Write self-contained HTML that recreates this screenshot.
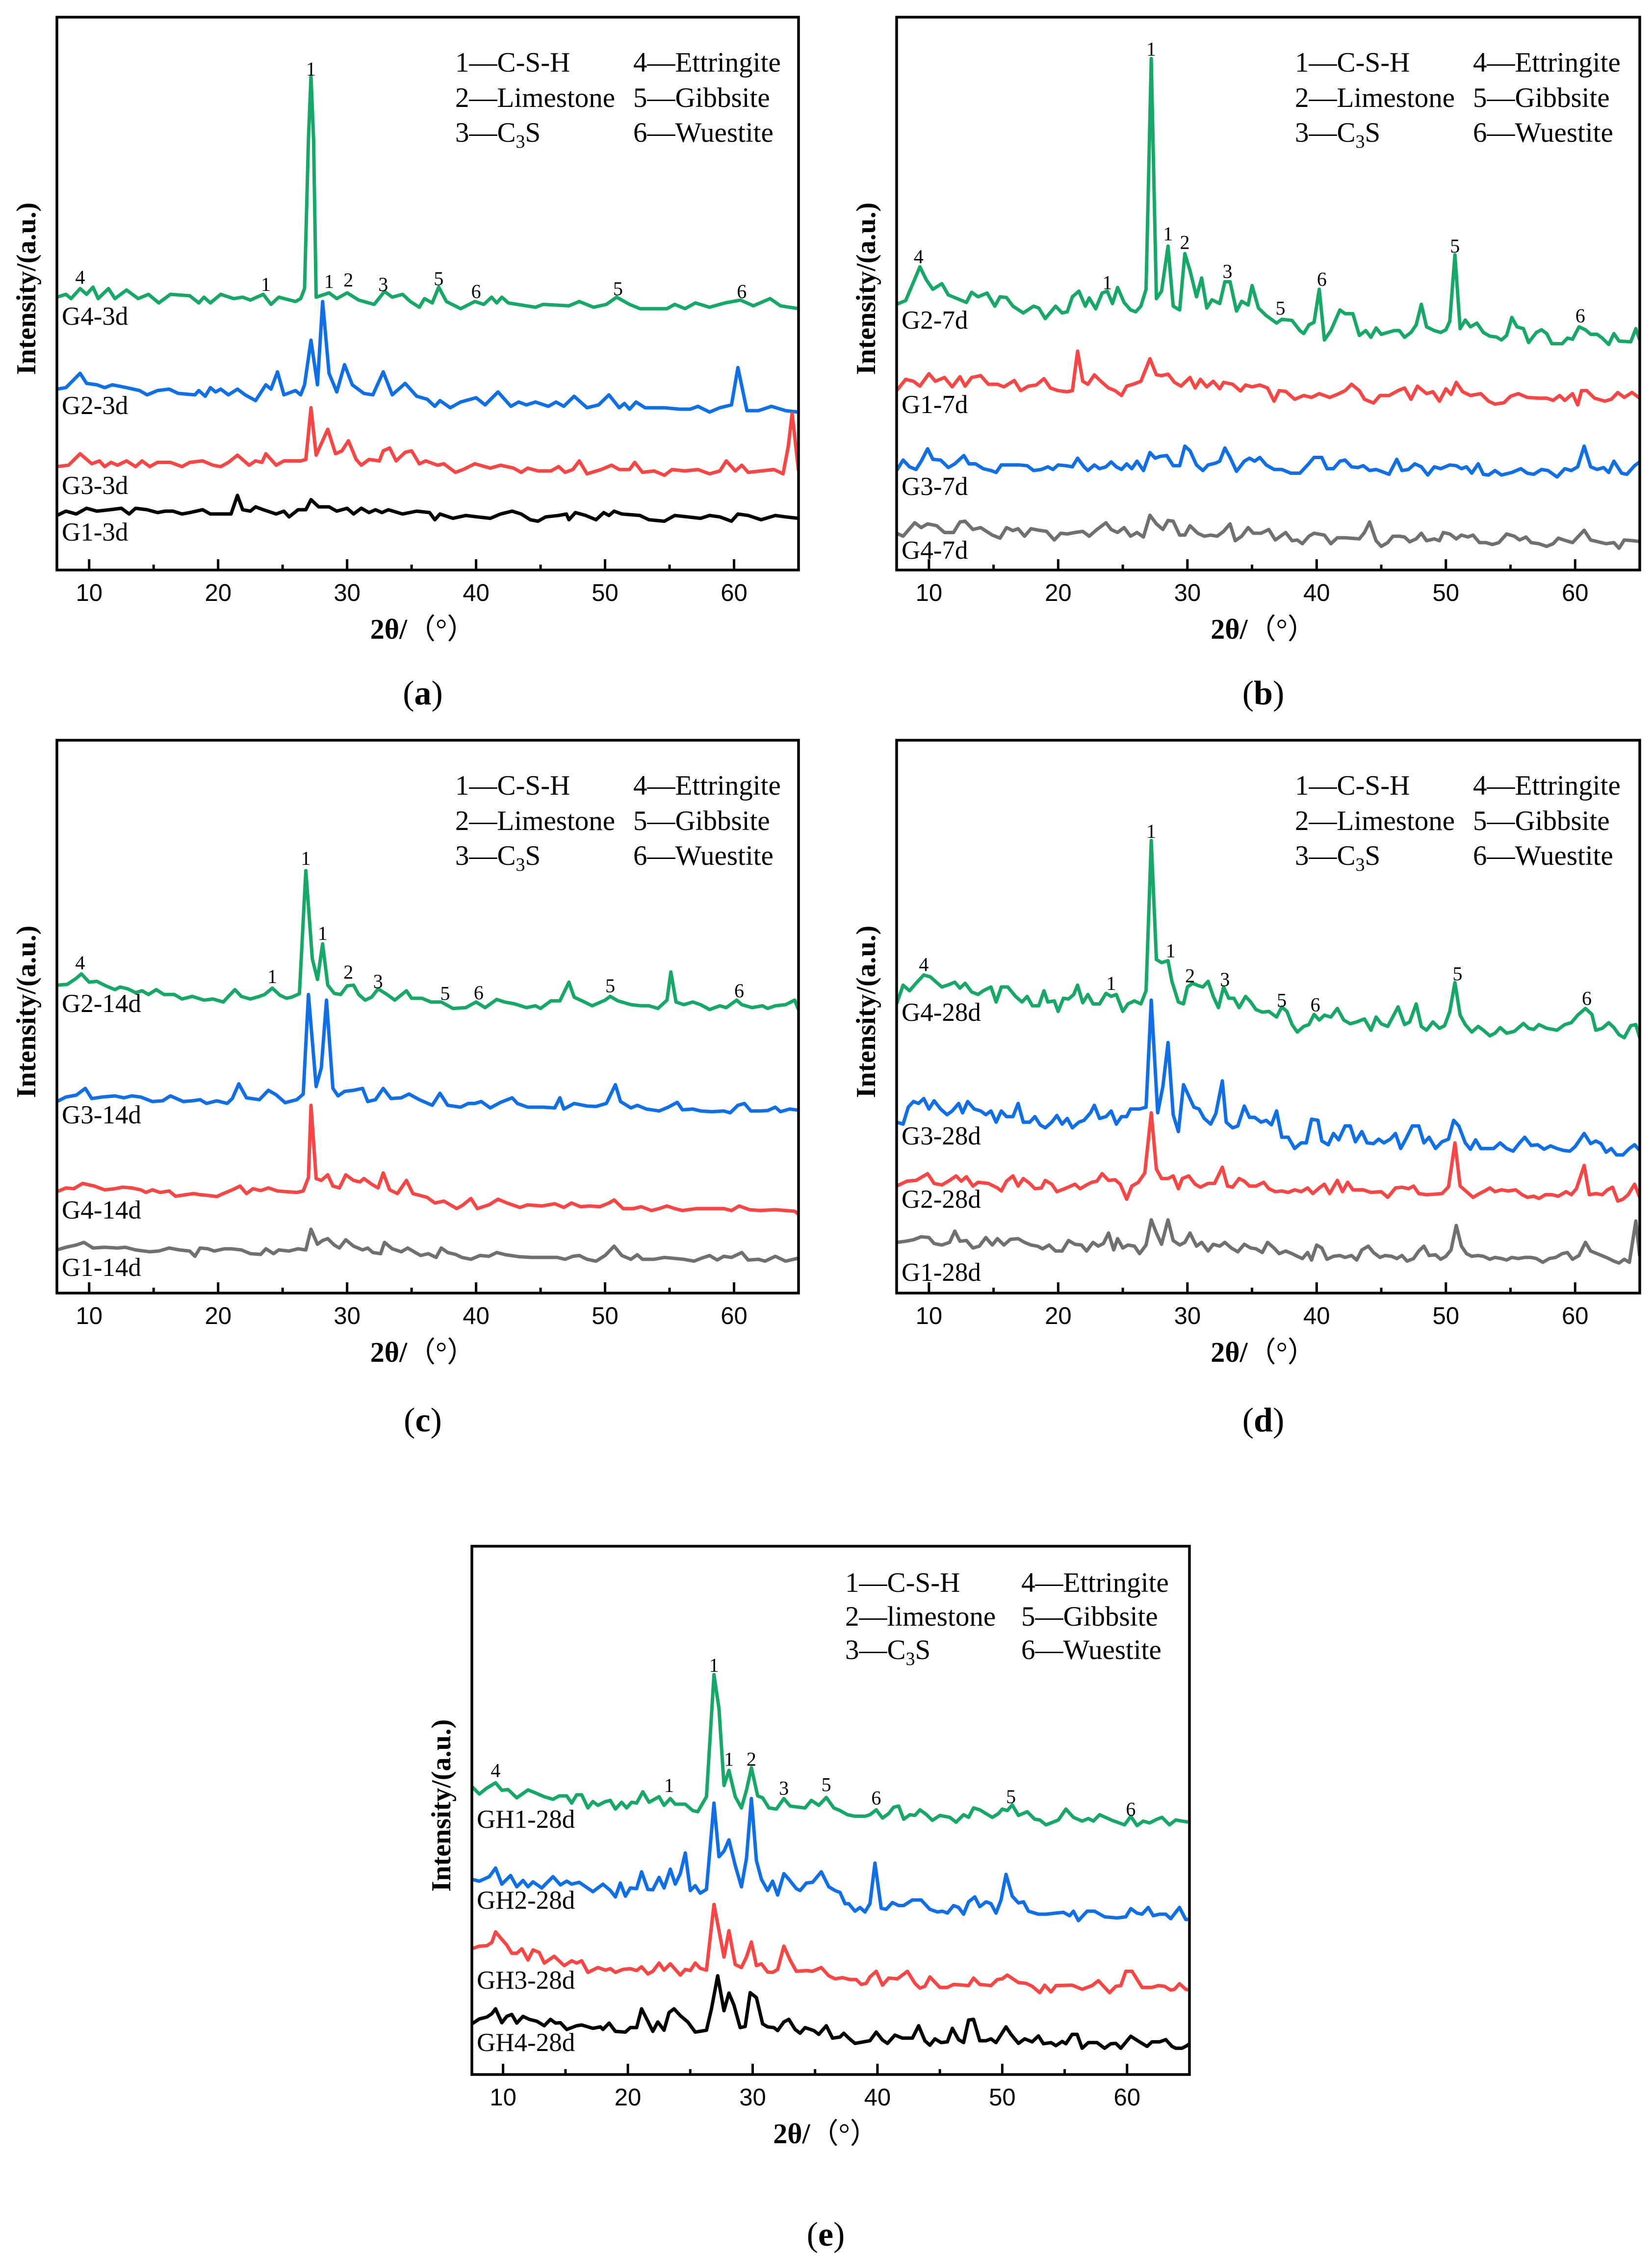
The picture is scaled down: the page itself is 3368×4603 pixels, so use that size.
<!DOCTYPE html>
<html><head><meta charset="utf-8">
<style>
html,body{margin:0;padding:0;background:#fff;}
svg{display:block;}
.serif{font-family:"Liberation Serif","Times New Roman",serif;}
.sans{font-family:"Liberation Sans",Arial,sans-serif;}
</style></head>
<body>
<svg id="fig" xmlns="http://www.w3.org/2000/svg" width="3368" height="4603" viewBox="0 0 3368 4603">
<rect x="0" y="0" width="3368" height="4603" fill="#fff"/>
</svg>
<script>
// ---------- Panel (a) data : [2theta, intensity a.u.] ----------
const a_G4=[[7.5,190],[8.2,192],[8.6,189],[9.3,196],[9.8,192],[10.3,197],[10.7,189],[11.5,196],[12.0,189],[12.9,195],[13.8,189],[14.6,192],[15.4,186],[16.3,192],[17.8,191],[18.5,186],[18.9,190],[19.4,186],[20.2,192],[21.2,189],[21.9,190],[22.5,188],[23.5,192],[24.1,185],[24.7,190],[26.0,187],[26.4,189],[26.7,196],[27.0,300],[27.2,344],[27.4,300],[27.6,190],[28.6,193],[29.2,189],[30.0,193],[30.9,188],[32.1,185],[32.9,194],[33.5,190],[34.3,192],[34.9,187],[35.6,183],[36.0,189],[36.6,186],[37.1,197],[37.7,187],[38.8,182],[39.9,187],[40.6,185],[41.2,190],[41.6,186],[42.0,190],[42.5,186],[44.6,183],[45.2,185],[47.2,184],[48.0,187],[49.1,183],[50.1,185],[50.9,190],[51.9,185],[52.7,182],[54.8,182],[55.4,185],[56.2,182],[57.0,186],[58.1,183],[59.3,186],[60.5,188],[61.5,184],[62.8,189],[63.6,184],[65.0,182]];
const a_G2=[[7.5,126],[8.2,127],[9.3,137],[9.8,130],[10.6,129],[11.2,127],[11.8,129],[12.9,127],[13.9,125],[14.5,122],[15.3,125],[16.2,126],[16.9,123],[18.2,122],[18.5,125],[19.0,121],[19.4,127],[19.8,124],[20.2,126],[20.8,122],[21.5,126],[22.1,122],[22.9,118],[23.7,129],[24.1,126],[24.6,138],[25.1,122],[26.0,125],[26.4,122],[26.7,129],[27.2,160],[27.7,129],[28.1,187],[28.6,137],[29.2,124],[29.8,143],[30.4,129],[31.3,123],[32.0,122],[32.8,138],[33.5,122],[34.5,130],[35.4,121],[36.2,119],[36.8,114],[37.2,118],[38.0,113],[38.8,117],[40.0,120],[40.7,115],[41.7,124],[42.7,114],[43.3,117],[43.9,115],[44.6,117],[45.6,114],[46.2,117],[46.8,114],[47.6,121],[48.6,113],[49.5,115],[50.3,122],[51.1,113],[51.5,116],[51.9,112],[52.4,117],[53.1,113],[54.6,113],[55.8,112],[56.6,112],[57.2,114],[58.1,110],[58.9,113],[59.8,115],[60.3,141],[61.0,111],[61.9,111],[62.9,114],[64.0,111],[65.0,110]];
const a_G3=[[7.5,72],[8.4,73],[9.3,81],[10.2,74],[10.8,76],[11.2,72],[11.7,75],[12.2,73],[12.9,76],[13.6,72],[14.1,76],[14.7,72],[15.3,75],[16.3,75],[17.2,72],[17.8,75],[18.8,76],[19.6,73],[20.2,72],[20.8,75],[21.5,80],[22.4,73],[22.9,76],[23.4,75],[23.7,81],[24.5,73],[25.1,76],[26.4,76],[26.8,77],[27.2,113],[27.6,80],[28.5,98],[29.1,81],[29.6,83],[30.1,90],[30.7,77],[31.1,73],[31.7,77],[32.5,76],[32.8,83],[33.3,85],[33.8,76],[34.5,82],[35.0,83],[35.6,74],[36.1,76],[37.0,73],[37.5,74],[38.4,68],[39.0,70],[39.9,74],[41.1,71],[41.9,73],[42.9,71],[43.5,68],[44.0,71],[44.8,69],[45.8,69],[46.4,72],[46.9,68],[47.5,70],[48.0,76],[48.6,67],[49.7,70],[50.5,73],[51.1,70],[51.9,70],[52.3,75],[52.9,68],[53.8,69],[54.6,66],[55.2,70],[56.2,69],[57.2,70],[58.1,67],[58.9,69],[59.4,76],[60.1,69],[60.6,73],[61.1,68],[62.1,69],[63.1,70],[63.8,67],[64.2,86],[64.5,109],[65.0,69]];
const a_G1=[[7.5,38],[8.2,41],[9.0,39],[9.8,43],[10.6,41],[11.6,42],[12.5,43],[13.1,39],[13.6,43],[14.5,42],[15.3,40],[15.9,41],[16.5,41],[17.2,39],[17.8,40],[18.8,42],[19.4,39],[21.0,39],[21.5,52],[21.9,42],[22.5,41],[22.9,44],[23.5,42],[24.5,39],[25.1,41],[25.5,37],[26.2,42],[26.8,42],[27.2,49],[27.8,44],[28.6,44],[29.2,41],[30.0,43],[30.5,39],[31.1,43],[31.7,40],[32.2,42],[32.7,40],[33.2,42],[34.3,39],[35.4,41],[36.4,40],[36.8,35],[37.2,39],[38.2,36],[39.2,38],[40.1,37],[41.1,36],[41.9,39],[42.8,41],[43.5,39],[44.2,35],[44.8,34],[45.4,37],[46.4,38],[47.0,39],[47.2,35],[47.7,40],[48.5,38],[49.3,35],[49.9,40],[50.3,38],[50.7,41],[51.3,39],[52.7,38],[53.4,35],[54.6,34],[55.4,38],[56.4,37],[57.4,36],[58.1,38],[58.9,37],[59.8,34],[60.3,39],[61.1,38],[62.1,35],[63.2,38],[64.0,37],[65.0,36]];
const a_peaks=[["4",9.3,204],["1",23.7,199],["1",27.2,349],["1",28.6,201],["2",30.1,202],["3",32.8,199],["5",37.1,203],["6",40.0,194],["5",51.0,196],["6",60.6,194]];

// ---------- Panel (b) data ----------
const b_G2=[[7.5,708],[8.2,718],[9.0,783],[9.3,808],[9.8,773],[10.3,748],[11.0,763],[11.5,733],[12.2,723],[12.9,713],[13.3,740],[13.8,728],[14.5,738],[15.1,703],[15.5,728],[16.0,726],[16.5,703],[17.3,685],[18.1,703],[18.5,698],[19.0,670],[19.8,703],[20.3,685],[20.7,688],[21.1,728],[21.6,743],[22.1,703],[22.4,725],[22.9,696],[23.4,738],[23.8,743],[24.2,710],[24.6,753],[25.1,713],[25.6,693],[26.0,688],[26.4,703],[26.8,748],[27.2,1363],[27.6,723],[28.0,743],[28.5,863],[28.9,703],[29.4,693],[29.8,843],[30.2,798],[30.7,728],[31.1,778],[31.5,698],[31.9,720],[32.5,710],[32.9,768],[33.3,768],[33.8,690],[34.2,716],[34.7,706],[35.0,758],[35.5,698],[36.1,678],[36.9,658],[37.3,668],[38.1,665],[38.7,638],[39.0,630],[39.4,653],[39.8,660],[40.2,748],[40.6,613],[41.1,638],[41.8,693],[42.2,683],[42.8,683],[43.3,625],[43.8,638],[44.2,620],[44.6,645],[45.0,628],[46.0,638],[46.4,638],[46.8,620],[47.3,633],[47.7,653],[48.1,708],[48.5,648],[49.1,638],[49.6,633],[50.0,640],[50.3,663],[50.7,840],[51.1,643],[51.5,666],[51.9,648],[52.4,658],[52.9,633],[53.4,623],[53.9,621],[54.3,613],[54.7,625],[55.1,673],[55.5,648],[56.0,643],[56.4,606],[57.0,633],[57.4,640],[57.8,630],[58.2,603],[59.0,603],[59.4,618],[59.8,615],[60.3,648],[60.8,640],[61.2,628],[61.7,628],[62.1,618],[62.6,601],[63.0,630],[63.4,610],[64.3,608],[64.7,643],[65.0,613]];
const b_G1=[[7.5,478],[8.2,508],[8.8,503],[9.3,490],[10.0,523],[10.5,503],[11.2,513],[11.8,488],[12.4,515],[12.8,490],[13.3,513],[14.0,518],[14.6,495],[15.3,495],[15.8,488],[16.6,505],[17.1,478],[17.7,490],[18.3,493],[18.9,510],[19.4,485],[20.0,478],[20.7,475],[21.1,478],[21.5,583],[21.9,503],[22.3,495],[22.8,520],[23.3,503],[23.9,485],[24.4,478],[24.9,465],[25.3,490],[25.8,495],[26.4,503],[27.1,563],[27.6,520],[28.0,518],[28.5,522],[29.0,500],[29.5,490],[30.2,513],[30.6,485],[31.0,508],[31.5,488],[32.0,503],[32.5,483],[32.8,500],[33.5,495],[34.1,477],[34.5,493],[35.0,488],[35.6,493],[36.2,485],[36.7,450],[37.1,478],[37.6,476],[38.3,455],[39.0,465],[39.6,460],[40.2,470],[41.0,460],[41.6,468],[42.2,478],[42.7,495],[43.3,478],[43.7,455],[44.4,445],[44.9,465],[45.6,465],[46.3,478],[46.8,485],[47.3,455],[47.8,490],[48.5,470],[49.0,475],[49.5,450],[50.0,483],[50.4,468],[50.8,500],[51.3,475],[51.9,465],[52.7,470],[53.3,450],[53.8,442],[54.5,446],[55.0,463],[55.6,470],[56.3,460],[57.2,458],[57.8,458],[58.3,452],[58.8,465],[59.2,452],[59.8,470],[60.2,440],[60.5,478],[60.9,478],[61.5,458],[62.3,450],[62.8,455],[63.3,473],[63.8,460],[64.4,473],[65.0,458]];
const b_G3=[[7.5,265],[8.0,293],[8.5,275],[9.0,268],[9.4,290],[9.9,323],[10.3,295],[10.9,293],[11.5,273],[12.0,283],[12.7,305],[13.1,283],[13.6,283],[14.2,270],[14.8,265],[15.2,260],[15.6,280],[16.3,280],[17.0,280],[17.6,278],[18.1,265],[18.7,268],[19.2,275],[19.6,268],[20.0,280],[20.6,278],[21.1,275],[21.5,298],[22.0,275],[22.3,265],[22.8,280],[23.2,270],[23.7,275],[24.1,288],[24.5,275],[24.9,268],[25.3,283],[25.7,270],[26.1,290],[26.6,265],[27.1,313],[27.5,298],[27.9,303],[28.4,305],[28.9,278],[29.4,278],[29.8,330],[30.2,318],[30.7,280],[31.2,265],[31.6,280],[32.2,285],[32.5,290],[32.9,325],[33.3,300],[33.8,263],[34.4,290],[34.8,298],[35.2,290],[35.6,300],[36.1,280],[36.7,268],[37.3,268],[38.0,258],[38.7,258],[39.3,280],[39.8,300],[40.4,300],[40.8,270],[41.3,270],[41.8,290],[42.2,293],[42.7,275],[43.2,273],[43.6,278],[44.1,265],[44.6,268],[45.0,263],[45.6,255],[46.2,295],[46.6,265],[47.1,268],[47.6,283],[48.1,275],[48.6,253],[49.1,275],[49.6,270],[50.3,280],[50.8,278],[51.2,270],[51.6,275],[52.0,258],[52.5,283],[52.9,255],[53.3,253],[53.8,265],[54.3,253],[55.1,260],[55.8,270],[56.3,258],[56.8,255],[57.4,268],[57.9,265],[58.6,248],[59.2,270],[59.7,265],[60.2,275],[60.7,330],[61.2,275],[61.7,268],[62.2,273],[62.6,260],[63.0,290],[63.6,258],[64.0,255],[64.6,278],[65.0,288]];
const b_G4=[[7.5,98],[8.0,90],[8.9,126],[9.4,113],[9.9,123],[10.6,118],[11.2,100],[11.9,100],[12.4,128],[12.8,130],[13.4,108],[14.0,113],[14.9,93],[15.5,85],[16.0,113],[16.5,105],[16.9,110],[17.4,90],[17.9,110],[18.5,106],[19.1,103],[19.7,80],[20.2,98],[20.7,96],[21.3,100],[21.9,103],[22.4,90],[23.0,108],[23.7,126],[24.1,108],[24.6,100],[25.1,113],[25.6,90],[26.1,100],[26.6,88],[27.1,146],[27.6,123],[28.1,108],[28.5,132],[28.9,130],[29.4,93],[29.8,93],[30.2,118],[30.8,98],[31.3,90],[31.8,93],[32.3,90],[32.8,103],[33.3,123],[33.7,78],[34.2,90],[34.7,113],[35.1,98],[35.7,98],[36.3,108],[36.8,80],[37.6,100],[38.1,78],[38.5,80],[38.9,70],[39.4,90],[39.8,98],[40.6,93],[41.1,70],[41.6,86],[42.2,86],[43.3,83],[43.7,100],[44.1,128],[44.6,78],[45.0,63],[45.5,73],[45.9,90],[46.4,90],[46.8,88],[47.2,75],[47.7,83],[48.1,98],[48.5,78],[49.1,83],[49.5,78],[49.8,100],[50.3,96],[50.8,83],[51.2,93],[51.7,88],[52.1,93],[52.6,73],[53.1,73],[53.6,68],[54.1,73],[54.7,96],[55.3,90],[55.7,80],[56.2,88],[56.6,73],[57.2,70],[57.8,63],[58.3,70],[58.7,85],[59.3,78],[59.8,73],[60.7,106],[61.2,80],[61.8,75],[62.4,70],[63.0,73],[63.4,58],[63.8,80],[64.5,78],[65.0,76]];
const b_peaks=[["4",9.2,835],["1",23.8,766],["1",27.2,1388],["1",28.5,896],["2",29.8,873],["3",33.1,796],["5",37.2,698],["6",40.4,775],["5",50.7,863],["6",60.4,678]];

// ---------- Panel (c) data ----------
const c_G2=[[7.5,820],[8.3,822],[9.0,838],[9.4,850],[10.0,828],[10.6,830],[11.3,818],[12.0,808],[12.4,815],[13.0,810],[13.6,800],[14.1,805],[14.6,795],[15.2,808],[15.8,795],[16.6,795],[17.2,783],[18.0,790],[18.9,780],[19.6,783],[20.4,775],[20.8,790],[21.3,808],[21.8,790],[22.5,783],[23.2,790],[23.6,795],[24.2,812],[24.8,793],[25.3,785],[25.7,788],[26.3,797],[26.8,1125],[27.3,890],[27.7,835],[28.1,930],[28.5,820],[29.0,798],[29.5,795],[30.0,818],[30.5,820],[30.9,795],[31.4,780],[31.9,788],[32.4,810],[33.1,795],[33.7,780],[34.6,805],[35.0,785],[35.8,785],[36.5,775],[37.3,775],[38.2,758],[39.2,760],[40.0,775],[40.7,760],[41.6,782],[42.2,775],[43.0,770],[43.9,760],[44.6,765],[45.0,758],[45.8,778],[46.5,778],[47.2,828],[47.6,788],[48.4,775],[49.0,765],[50.0,780],[50.4,790],[51.0,778],[52.0,768],[52.8,765],[53.4,765],[54.1,758],[54.8,780],[55.1,855],[55.5,775],[56.1,768],[56.8,775],[57.4,768],[58.1,755],[58.9,765],[59.4,760],[60.2,780],[60.6,768],[61.4,760],[62.2,765],[62.6,758],[63.2,765],[64.0,768],[64.7,780],[65.0,755]];
const c_G3=[[7.5,510],[8.2,522],[9.0,527],[9.7,545],[10.2,518],[11.0,522],[12.0,525],[12.7,520],[13.3,525],[14.0,522],[14.9,510],[15.7,512],[16.3,525],[17.3,510],[18.0,512],[18.6,515],[19.1,505],[19.9,512],[20.7,505],[21.1,518],[21.6,557],[22.2,520],[23.2,515],[23.9,540],[24.5,528],[25.2,507],[26.1,515],[26.6,530],[27.0,795],[27.6,550],[28.0,600],[28.4,780],[28.9,545],[29.3,525],[29.8,537],[30.5,540],[31.2,545],[31.6,510],[32.2,515],[32.8,545],[33.4,518],[34.2,520],[34.8,530],[35.6,515],[36.6,500],[37.2,532],[37.8,500],[38.8,495],[39.4,505],[39.9,505],[40.4,510],[41.1,493],[41.9,508],[42.8,520],[43.2,505],[44.0,495],[44.6,495],[45.2,495],[46.1,493],[46.5,520],[46.8,490],[47.6,505],[48.6,498],[49.3,497],[50.1,505],[50.8,555],[51.2,510],[52.0,493],[52.5,500],[53.2,490],[54.2,485],[54.9,495],[55.6,508],[56.0,488],[56.8,490],[57.4,485],[58.3,483],[59.2,485],[59.7,480],[60.3,500],[60.8,505],[61.3,485],[62.0,485],[62.6,486],[63.2,495],[63.6,483],[64.3,490],[65.0,487]];
const c_G4=[[7.5,270],[8.2,280],[8.8,278],[9.5,292],[10.4,285],[11.2,275],[12.0,278],[12.6,282],[13.3,280],[14.0,275],[14.4,268],[14.9,275],[15.5,268],[16.2,272],[16.7,258],[17.5,262],[18.1,265],[18.6,262],[19.2,260],[19.9,257],[20.4,265],[21.1,275],[21.7,285],[22.2,265],[22.7,278],[23.3,273],[23.9,280],[24.6,272],[25.3,270],[26.1,268],[26.6,272],[27.0,308],[27.2,500],[27.6,305],[28.0,300],[28.5,315],[28.9,285],[29.4,280],[29.9,315],[30.5,300],[31.0,296],[31.3,305],[31.9,290],[32.4,280],[32.8,320],[33.3,275],[33.9,265],[34.6,300],[35.1,265],[36.2,255],[36.8,240],[37.5,245],[38.5,225],[39.0,235],[39.6,252],[40.1,225],[41.0,235],[41.7,250],[42.4,240],[43.4,228],[44.0,235],[45.1,232],[46.1,238],[46.8,228],[47.4,240],[48.1,230],[48.8,232],[49.6,230],[50.3,240],[50.7,248],[51.4,225],[52.2,225],[52.8,230],[53.6,220],[54.2,225],[54.8,232],[55.4,225],[56.0,220],[57.1,225],[58.0,225],[59.2,225],[59.8,220],[60.4,232],[61.2,222],[62.0,220],[63.2,222],[64.0,220],[64.7,218],[65.0,210]];
const c_G1=[[7.5,115],[8.2,122],[9.0,128],[9.6,135],[10.3,120],[11.2,122],[12.2,120],[12.8,122],[13.6,115],[14.7,110],[15.4,112],[16.2,120],[17.0,115],[17.8,112],[18.2,98],[18.6,120],[19.2,118],[19.7,112],[20.5,118],[21.0,118],[21.8,115],[22.5,105],[23.3,103],[23.7,118],[24.3,105],[24.7,115],[25.5,112],[26.2,118],[26.8,115],[27.2,170],[27.7,130],[28.1,140],[28.5,145],[29.0,128],[29.4,120],[29.9,142],[30.5,125],[31.2,115],[31.6,120],[32.0,108],[32.6,105],[32.9,135],[33.5,118],[34.2,110],[34.7,120],[35.3,108],[35.7,100],[36.3,105],[36.9,95],[37.3,120],[37.8,108],[38.4,103],[38.9,95],[39.6,90],[40.3,100],[41.0,98],[41.6,108],[42.3,102],[43.3,97],[44.3,95],[45.2,95],[46.3,95],[46.9,90],[47.5,98],[48.0,100],[48.6,90],[49.3,85],[50.0,100],[50.7,125],[51.3,100],[52.0,90],[52.5,102],[52.9,90],[53.8,90],[54.6,95],[55.2,93],[56.1,90],[56.9,85],[57.4,92],[58.1,100],[58.7,88],[59.2,98],[59.8,95],[60.6,108],[61.1,88],[61.9,90],[62.4,85],[63.2,98],[64.0,85],[65.0,93]];
const c_peaks=[["4",9.3,880],["1",24.2,843],["1",26.8,1158],["1",28.1,958],["2",30.1,855],["3",32.4,830],["5",37.6,798],["6",40.2,800],["5",50.4,818],["6",60.4,805]];

// ---------- Panel (d) data ----------
const d_G4=[[7.5,770],[8.0,820],[8.5,805],[9.0,825],[9.6,847],[10.1,842],[10.5,830],[11.0,815],[11.6,822],[12.0,828],[12.4,812],[12.8,825],[13.3,802],[13.8,795],[14.2,805],[14.8,815],[15.2,775],[15.6,815],[16.1,815],[16.7,790],[17.2,775],[17.6,790],[18.0,765],[18.5,765],[18.9,805],[19.2,775],[19.7,778],[20.0,750],[20.4,785],[20.8,783],[21.2,795],[21.5,820],[21.9,773],[22.3,795],[22.7,770],[23.2,770],[23.7,798],[24.1,790],[24.5,795],[25.0,750],[25.4,770],[25.9,778],[26.4,770],[26.8,805],[27.2,1205],[27.6,888],[28.0,880],[28.5,885],[28.8,830],[29.3,775],[29.7,770],[30.0,815],[30.4,825],[30.9,818],[31.2,815],[31.6,830],[32.0,790],[32.4,760],[32.8,815],[33.2,785],[33.6,785],[34.0,760],[34.5,790],[34.9,775],[35.3,755],[35.8,748],[36.3,750],[36.9,735],[37.3,762],[37.7,750],[38.1,715],[38.5,695],[39.0,710],[39.4,715],[39.8,742],[40.2,727],[40.6,740],[41.1,735],[41.6,758],[42.1,727],[42.6,717],[43.1,722],[43.7,730],[44.2,700],[44.6,735],[45.0,717],[45.5,710],[46.3,762],[46.8,715],[47.2,722],[47.7,770],[48.1,710],[48.5,700],[49.0,722],[49.5,705],[49.9,712],[50.3,750],[50.7,827],[51.1,740],[51.5,715],[52.0,695],[52.5,710],[52.9,700],[53.4,685],[53.8,692],[54.2,707],[54.7,692],[55.3,697],[56.0,718],[56.4,705],[56.8,702],[57.2,715],[57.8,705],[58.6,700],[59.2,715],[59.7,720],[60.2,740],[60.8,758],[61.3,742],[61.6,700],[62.1,705],[62.6,720],[63.0,707],[63.4,688],[63.8,680],[64.3,712],[64.7,715],[65.0,680]];
const d_G3=[[7.5,455],[8.0,450],[8.4,495],[8.8,510],[9.2,505],[9.6,518],[10.0,490],[10.4,512],[10.9,490],[11.4,475],[11.8,485],[12.3,505],[12.6,480],[13.0,510],[13.5,490],[14.0,485],[14.4,475],[14.8,485],[15.2,455],[15.6,485],[16.0,470],[16.5,470],[16.9,505],[17.3,455],[17.8,455],[18.2,470],[18.6,448],[19.0,440],[19.5,455],[19.9,473],[20.3,450],[20.7,465],[21.1,440],[21.6,455],[22.0,460],[22.5,480],[22.8,500],[23.2,465],[23.7,470],[24.1,485],[24.5,450],[24.9,470],[25.3,470],[25.6,490],[26.3,490],[26.8,495],[27.2,780],[27.7,480],[28.1,550],[28.5,667],[28.9,475],[29.3,430],[29.7,555],[30.1,525],[30.5,495],[30.9,490],[31.3,465],[31.8,450],[32.2,478],[32.7,565],[33.0,455],[33.5,440],[33.9,445],[34.4,498],[34.8,468],[35.2,468],[35.7,455],[36.1,460],[36.5,448],[36.9,485],[37.3,415],[37.8,415],[38.3,385],[38.8,400],[39.2,400],[39.6,463],[40.1,460],[40.4,405],[40.9,395],[41.3,425],[41.7,408],[42.2,445],[42.6,445],[43.0,403],[43.5,430],[43.9,400],[44.4,398],[44.8,410],[45.2,400],[45.7,410],[46.1,425],[46.5,385],[46.9,410],[47.4,445],[47.9,445],[48.3,400],[48.7,415],[49.2,385],[49.7,403],[50.2,410],[50.6,460],[51.0,445],[51.5,400],[51.9,383],[52.3,408],[52.7,385],[53.2,385],[53.7,385],[54.2,400],[54.7,385],[55.2,378],[55.7,400],[56.1,415],[56.6,393],[57.1,395],[57.6,383],[58.1,392],[58.6,385],[59.1,380],[59.6,378],[60.0,390],[60.7,425],[61.2,398],[61.6,405],[62.0,398],[62.4,375],[62.8,385],[63.2,368],[63.7,368],[64.2,385],[64.6,395],[65.0,380]];
const d_G2=[[7.5,285],[8.3,298],[9.0,300],[9.5,310],[9.9,318],[10.4,292],[11.0,288],[11.6,300],[12.1,312],[12.5,298],[12.9,310],[13.4,285],[13.8,295],[14.6,292],[15.3,280],[15.6,272],[16.0,298],[16.5,312],[16.9,285],[17.3,305],[17.8,292],[18.2,278],[18.7,280],[19.0,300],[19.5,290],[19.9,270],[20.5,278],[21.3,290],[21.7,278],[22.3,290],[22.6,295],[23.0,298],[23.4,318],[23.9,300],[24.4,302],[24.8,290],[25.3,250],[25.7,285],[26.2,295],[26.7,320],[27.2,480],[27.6,330],[28.0,305],[28.5,305],[28.9,312],[29.3,278],[29.6,305],[30.1,312],[30.6,290],[31.0,282],[31.6,292],[32.1,292],[32.7,335],[33.1,285],[33.5,282],[34.0,305],[34.4,298],[34.8,285],[35.3,285],[35.9,295],[36.3,278],[36.8,270],[37.3,272],[37.8,268],[38.3,275],[38.8,270],[39.3,280],[39.7,265],[40.2,280],[40.6,290],[41.0,265],[41.6,300],[42.0,270],[42.4,295],[42.8,275],[43.6,275],[44.2,268],[45.0,270],[45.5,255],[46.1,280],[46.6,282],[47.1,278],[47.5,285],[47.9,265],[48.5,262],[49.0,263],[49.7,265],[50.2,283],[50.7,400],[51.1,285],[51.6,270],[52.1,255],[52.6,265],[53.0,272],[53.4,280],[53.8,270],[54.3,275],[54.8,272],[55.4,275],[55.9,262],[56.3,255],[56.8,258],[57.2,252],[57.7,262],[58.2,262],[58.7,258],[59.3,270],[59.7,262],[60.1,278],[60.7,340],[61.1,262],[61.6,265],[62.1,262],[62.5,275],[62.9,282],[63.3,245],[63.7,250],[64.1,262],[64.6,290],[65.0,255]];
const d_G1=[[7.5,135],[8.2,138],[8.8,142],[9.4,150],[10.0,148],[10.4,132],[11.0,128],[11.6,135],[12.0,165],[12.4,138],[12.9,140],[13.4,120],[13.9,125],[14.4,148],[14.9,128],[15.3,145],[15.8,128],[16.3,143],[16.9,145],[17.4,135],[17.9,128],[18.4,125],[18.8,118],[19.3,128],[19.8,112],[20.3,112],[20.8,140],[21.3,130],[21.8,128],[22.2,112],[22.7,135],[23.1,125],[23.5,132],[23.9,160],[24.3,115],[24.6,145],[25.0,120],[25.4,128],[25.9,125],[26.3,105],[26.8,128],[27.2,195],[27.6,160],[28.0,130],[28.5,195],[28.9,140],[29.4,128],[29.8,135],[30.2,160],[30.7,125],[31.1,135],[31.6,112],[32.0,130],[32.5,125],[32.9,135],[33.4,120],[33.9,110],[34.4,130],[34.9,120],[35.3,118],[35.8,108],[36.2,135],[36.7,120],[37.1,105],[37.6,112],[38.1,105],[38.5,98],[38.9,92],[39.3,108],[39.6,88],[40.0,128],[40.4,120],[40.8,90],[41.3,98],[41.8,100],[42.2,95],[42.7,100],[43.1,88],[43.5,115],[44.0,125],[44.4,108],[44.9,95],[45.3,100],[45.8,98],[46.2,92],[46.6,100],[47.0,85],[47.5,92],[47.9,112],[48.3,125],[48.7,100],[49.2,102],[49.6,90],[50.0,98],[50.4,115],[50.8,180],[51.2,125],[51.6,105],[52.0,98],[52.5,100],[52.9,98],[53.4,90],[53.8,95],[54.3,92],[54.7,88],[55.1,95],[55.6,92],[56.1,95],[56.6,95],[57.0,92],[57.5,82],[58.0,92],[58.5,95],[59.0,105],[59.4,108],[59.8,90],[60.3,100],[60.8,135],[61.2,112],[61.7,105],[62.2,98],[62.6,92],[63.0,85],[63.4,80],[63.8,90],[64.2,82],[64.7,192],[65.0,98]];
const d_peaks=[["4",9.6,875],["1",24.1,825],["1",27.2,1230],["1",28.7,912],["2",30.2,845],["3",32.9,835],["5",37.3,780],["6",39.9,768],["5",50.9,850],["6",60.9,785]];

// ---------- Panel (e) data ----------
const e_GH1=[[7.5,767],[8.1,747],[8.7,763],[9.4,777],[9.9,757],[10.4,759],[11.1,737],[12.0,758],[12.6,750],[13.3,740],[14.0,733],[14.5,742],[15.1,742],[15.5,723],[15.9,745],[16.3,745],[16.8,710],[17.2,727],[17.6,717],[18.2,727],[18.6,730],[19.0,707],[19.5,725],[19.9,710],[20.3,725],[20.7,723],[21.2,753],[21.7,725],[22.5,740],[22.9,717],[23.4,735],[23.8,720],[24.6,720],[25.2,703],[25.6,700],[26.3,740],[26.9,1065],[27.3,975],[27.7,770],[28.1,810],[28.6,740],[29.1,710],[29.5,757],[29.9,817],[30.4,742],[30.8,737],[31.3,710],[31.9,707],[32.5,735],[33.0,715],[33.7,712],[34.2,710],[34.7,730],[35.3,717],[35.9,738],[36.5,710],[37.0,703],[37.6,692],[38.2,688],[39.0,688],[39.4,692],[39.9,705],[40.4,683],[40.9,695],[41.3,712],[41.7,715],[42.1,680],[42.6,692],[43.0,690],[43.4,705],[43.9,693],[44.4,677],[45.0,690],[45.8,685],[46.3,672],[46.9,692],[47.3,685],[47.7,710],[48.2,705],[49.2,685],[49.7,695],[50.0,707],[50.4,703],[50.8,718],[51.3,690],[52.0,700],[52.6,680],[53.0,678],[53.5,665],[53.9,670],[54.5,678],[55.1,707],[55.7,685],[56.4,675],[56.9,682],[57.3,675],[57.8,692],[58.8,677],[59.8,665],[60.3,688],[60.8,663],[61.3,675],[61.8,670],[62.4,680],[62.8,685],[63.4,665],[63.9,678],[64.4,675],[65.0,672]];
const e_GH2=[[7.5,520],[8.1,515],[8.9,527],[9.4,550],[9.9,507],[10.6,530],[11.1,500],[11.6,517],[12.0,500],[12.4,513],[13.1,497],[14.0,527],[14.6,505],[15.1,515],[15.5,507],[16.1,512],[17.2,487],[18.0,507],[18.6,490],[19.0,473],[19.4,510],[19.8,475],[20.2,497],[20.7,495],[21.1,540],[21.6,493],[22.0,492],[22.5,525],[22.9,497],[23.4,547],[23.8,507],[24.2,535],[24.6,590],[25.0,490],[25.4,503],[25.8,483],[26.3,493],[26.9,723],[27.3,580],[27.7,595],[28.1,625],[28.6,557],[29.1,500],[29.5,575],[29.9,735],[30.3,570],[30.7,520],[31.2,490],[31.6,515],[32.0,478],[32.5,535],[32.9,520],[33.5,495],[33.8,490],[34.3,510],[34.8,512],[35.3,532],[35.5,540],[36.1,500],[36.6,490],[37.0,485],[37.4,455],[37.7,455],[38.2,435],[38.6,445],[39.0,433],[39.4,455],[39.8,563],[40.3,443],[40.7,440],[41.2,458],[41.7,450],[42.1,450],[42.8,465],[43.5,465],[44.2,440],[44.8,433],[45.2,435],[45.6,430],[46.1,450],[46.5,445],[46.9,427],[47.3,460],[47.8,473],[48.2,447],[48.7,460],[49.1,455],[49.5,430],[49.9,465],[50.3,533],[50.8,475],[51.3,457],[51.7,460],[52.1,435],[52.9,427],[53.5,427],[54.3,430],[54.9,432],[55.4,423],[55.7,435],[56.1,410],[56.8,435],[57.4,435],[58.2,420],[59.2,417],[59.9,420],[60.3,442],[60.8,430],[61.2,427],[61.7,445],[62.1,423],[62.6,427],[63.1,427],[63.5,415],[64.2,445],[64.7,413],[65.0,413]];
const e_GH3=[[7.5,335],[8.1,342],[8.7,343],[9.1,352],[9.4,380],[9.9,360],[10.3,345],[10.7,323],[11.1,323],[11.5,335],[12.0,305],[12.4,332],[12.9,325],[13.3,297],[14.1,315],[14.9,290],[15.5,303],[15.9,297],[16.3,303],[16.8,272],[17.6,285],[18.2,278],[18.6,282],[19.0,272],[19.6,280],[20.2,282],[20.7,277],[21.1,287],[21.6,268],[22.0,275],[22.5,297],[22.9,278],[23.4,295],[24.2,265],[24.6,280],[25.0,277],[25.4,297],[25.8,283],[26.3,278],[26.9,453],[27.3,383],[27.7,313],[28.1,383],[28.6,293],[29.1,285],[29.5,313],[29.9,353],[30.3,290],[30.7,295],[31.2,273],[31.6,272],[32.0,280],[32.5,342],[33.0,305],[33.5,275],[34.3,277],[34.8,275],[35.5,285],[36.1,263],[36.6,255],[37.2,258],[37.8,253],[38.3,253],[38.7,240],[39.1,243],[39.4,260],[39.9,275],[40.4,238],[40.9,257],[41.6,255],[42.4,275],[43.0,243],[43.4,230],[43.8,235],[44.2,260],[45.0,232],[45.6,232],[46.1,240],[47.3,237],[47.7,257],[48.2,240],[49.1,237],[49.6,253],[50.0,255],[50.4,265],[51.3,245],[51.9,243],[52.4,235],[53.0,218],[53.4,238],[53.9,220],[54.3,237],[55.6,238],[56.4,227],[57.2,237],[57.7,250],[58.6,218],[59.1,235],[59.5,237],[59.9,275],[60.4,275],[61.2,232],[62.0,232],[62.5,237],[63.0,235],[63.5,225],[63.8,227],[64.2,242],[64.7,227],[65.0,225]];
const e_GH4=[[7.5,135],[8.1,148],[8.7,153],[9.1,162],[9.4,175],[9.9,138],[10.3,155],[10.7,160],[11.1,137],[11.6,155],[12.1,147],[12.7,142],[13.3,130],[13.8,147],[14.2,137],[14.6,138],[15.1,120],[15.9,130],[16.3,132],[17.2,123],[17.8,127],[18.0,120],[18.5,137],[19.0,115],[19.8,113],[20.2,125],[20.7,125],[21.1,175],[21.6,142],[22.0,115],[22.4,140],[22.9,118],[23.3,165],[23.7,175],[24.2,157],[24.8,140],[25.4,113],[26.3,118],[26.7,175],[27.2,263],[27.7,170],[28.1,217],[28.5,185],[29.0,125],[29.4,128],[29.8,218],[30.3,205],[30.8,135],[31.2,127],[31.7,125],[32.0,117],[32.5,140],[32.9,147],[33.4,120],[33.8,110],[34.2,125],[34.9,117],[35.3,107],[35.9,130],[36.4,97],[37.0,100],[37.3,110],[37.7,97],[38.2,83],[39.4,90],[39.9,113],[40.4,92],[40.8,83],[41.4,105],[42.0,97],[42.8,97],[43.3,130],[43.8,90],[44.2,78],[44.6,95],[45.1,85],[45.6,87],[46.0,123],[46.5,93],[46.9,85],[47.3,145],[47.7,147],[48.2,90],[48.7,90],[49.1,95],[49.5,85],[50.3,127],[50.7,107],[51.3,83],[51.8,95],[52.4,87],[52.9,103],[53.3,82],[53.9,85],[54.3,77],[54.8,88],[55.1,82],[55.6,107],[56.0,107],[56.4,70],[56.9,85],[57.6,85],[58.2,70],[58.7,82],[59.1,83],[59.5,70],[60.3,102],[61.0,87],[61.6,75],[62.0,87],[62.6,87],[63.1,93],[63.6,75],[63.9,70],[64.4,70],[64.8,77],[65.0,82]];
const e_peaks=[["4",9.4,810],["1",23.3,770],["1",26.9,1090],["1",28.1,840],["2",29.9,840],["3",32.5,763],["5",35.9,772],["6",39.9,737],["5",50.7,740],["6",60.3,707]];

// ---------- axis ticks ----------
const xMajorTicks=[10,20,30,40,50,60];
const xMinorTicks=[15,25,35,45,55];
const xDomain=[7.5,65];

const GREEN="#16a866", BLUE="#0e6fe6", RED="#fa4545", BLACK="#000000", GRAY="#707070";
const NS="http://www.w3.org/2000/svg";
const svg=document.getElementById('fig');

function mk(tag,attrs,parent){
  const el=document.createElementNS(NS,tag);
  for(const k in attrs) el.setAttribute(k,attrs[k]);
  (parent||svg).appendChild(el);
  return el;
}

const panels=[
 {id:'a',x0:116,x1:1628,y0:35,y1:1162,vmax:385,caption:'a',lime:'Limestone',
  series:[{n:'G4-3d',d:a_G4,c:GREEN,ly:662},{n:'G2-3d',d:a_G2,c:BLUE,ly:844},{n:'G3-3d',d:a_G3,c:RED,ly:1007},{n:'G1-3d',d:a_G1,c:BLACK,ly:1102}],peaks:a_peaks},
 {id:'b',x0:1828,x1:3343,y0:35,y1:1162,vmax:1473,caption:'b',lime:'Limestone',
  series:[{n:'G2-7d',d:b_G2,c:GREEN,ly:670},{n:'G1-7d',d:b_G1,c:RED,ly:842},{n:'G3-7d',d:b_G3,c:BLUE,ly:1009},{n:'G4-7d',d:b_G4,c:GRAY,ly:1139}],peaks:b_peaks},
 {id:'c',x0:116,x1:1628,y0:1509,y1:2636,vmax:1472,caption:'c',lime:'Limestone',
  series:[{n:'G2-14d',d:c_G2,c:GREEN,ly:2063},{n:'G3-14d',d:c_G3,c:BLUE,ly:2290},{n:'G4-14d',d:c_G4,c:RED,ly:2484},{n:'G1-14d',d:c_G1,c:GRAY,ly:2601}],peaks:c_peaks},
 {id:'d',x0:1828,x1:3343,y0:1509,y1:2636,vmax:1472,caption:'d',lime:'Limestone',
  series:[{n:'G4-28d',d:d_G4,c:GREEN,ly:2081},{n:'G3-28d',d:d_G3,c:BLUE,ly:2333},{n:'G2-28d',d:d_G2,c:RED,ly:2462},{n:'G1-28d',d:d_G1,c:GRAY,ly:2611}],peaks:d_peaks},
 {id:'e',x0:962,x1:2425,y0:3152,y1:4229,vmax:1407,caption:'e',lime:'limestone',
  series:[{n:'GH1-28d',d:e_GH1,c:GREEN,ly:3726},{n:'GH2-28d',d:e_GH2,c:BLUE,ly:3891},{n:'GH3-28d',d:e_GH3,c:RED,ly:4054},{n:'GH4-28d',d:e_GH4,c:BLACK,ly:4181}],peaks:e_peaks}
];

panels.forEach(p=>{
  const g=mk('g',{});
  
  
  const xs=v=>p.x0+(v-xDomain[0])/(xDomain[1]-xDomain[0])*(p.x1-p.x0);
  const ys=v=>p.y1-v/p.vmax*(p.y1-p.y0);
  const clipId='clip-'+p.id;
  const defs=mk('defs',{},g);
  const cp=mk('clipPath',{id:clipId},defs);
  mk('rect',{x:p.x0,y:p.y0,width:p.x1-p.x0,height:p.y1-p.y0},cp);

  p.series.forEach(s=>{
    const pts=s.d.map(q=>xs(q[0]).toFixed(1)+','+ys(q[1]).toFixed(1)).join(' ');
    const pl=mk('polyline',{points:pts,fill:'none',stroke:s.c,'stroke-width':7,'stroke-linejoin':'round','clip-path':'url(#'+clipId+')'},g);
    
    
    const t=mk('text',{x:p.x0+10,y:s.ly,'font-size':53,class:'serif',fill:'#000'},g);
    t.textContent=s.n;
    
    
  });

  p.peaks.forEach(pk=>{
    const t=mk('text',{x:xs(pk[1]),y:ys(pk[2]),'font-size':40,class:'serif','text-anchor':'middle','dominant-baseline':'central',fill:'#000'},g);
    t.textContent=pk[0];
    
    
  });

  const fr=mk('rect',{x:p.x0,y:p.y0,width:p.x1-p.x0,height:p.y1-p.y0,fill:'none',stroke:'#000','stroke-width':5.5},g);
  
  

  xMajorTicks.forEach(v=>{
    const tk=mk('line',{x1:xs(v),x2:xs(v),y1:p.y1,y2:p.y1-22,stroke:'#000','stroke-width':5},g);
    
    
    const tl=mk('text',{x:xs(v),y:p.y1+63,'font-size':49,class:'sans','text-anchor':'middle',fill:'#000'},g);
    tl.textContent=String(v);
    
    
  });
  xMinorTicks.forEach(v=>{
    const tk=mk('line',{x1:xs(v),x2:xs(v),y1:p.y1,y2:p.y1-11,stroke:'#000','stroke-width':5},g);
    
    
  });

  const cx=(p.x0+p.x1)/2, cy=(p.y0+p.y1)/2;
  const xt=mk('text',{x:cx-10,y:p.y1+140,'font-size':58,class:'serif','text-anchor':'middle',fill:'#000'},g);
  xt.innerHTML='<tspan font-weight="bold">2θ/</tspan><tspan>（°）</tspan>';
  
  
  const yx=p.x0-62;
  const yt=mk('text',{x:yx,y:cy-10,'font-size':56,'font-weight':'bold',class:'serif','text-anchor':'middle','dominant-baseline':'central',transform:'rotate(-90 '+yx+' '+(cy-10)+')',fill:'#000'},g);
  yt.textContent='Intensity/(a.u.)';
  
  

  const lg=mk('g',{},g);
  
  
  const lx1=p.x0+(p.id==='e'?761:812), lx2=p.x0+(p.id==='e'?1120:1175);
  const rows=p.id==='e'?[93,162,230]:[111,183,254];
  const col1=['1—C-S-H','2—'+p.lime,null];
  const col2=['4—Ettringite','5—Gibbsite','6—Wuestite'];
  rows.forEach((r,i)=>{
    const t1=mk('text',{x:lx1,y:p.y0+r,'font-size':57,class:'serif',fill:'#000'},lg);
    if(col1[i]) t1.textContent=col1[i];
    else t1.innerHTML='3—C<tspan font-size="38" dy="12">3</tspan><tspan dy="-12">S</tspan>';
    
    
    const t2=mk('text',{x:lx2,y:p.y0+r,'font-size':57,class:'serif',fill:'#000'},lg);
    t2.textContent=col2[i];
    
    
  });

  const capY = p.id==='e'?4578:(p.id==='a'||p.id==='b'?1436:2918);
  const cap=mk('text',{x:cx-10,y:capY,'font-size':70,class:'serif','text-anchor':'middle',fill:'#000'},g);
  cap.innerHTML='(<tspan font-weight="bold">'+p.caption+'</tspan>)';
  
  
});
</script>
</body></html>
